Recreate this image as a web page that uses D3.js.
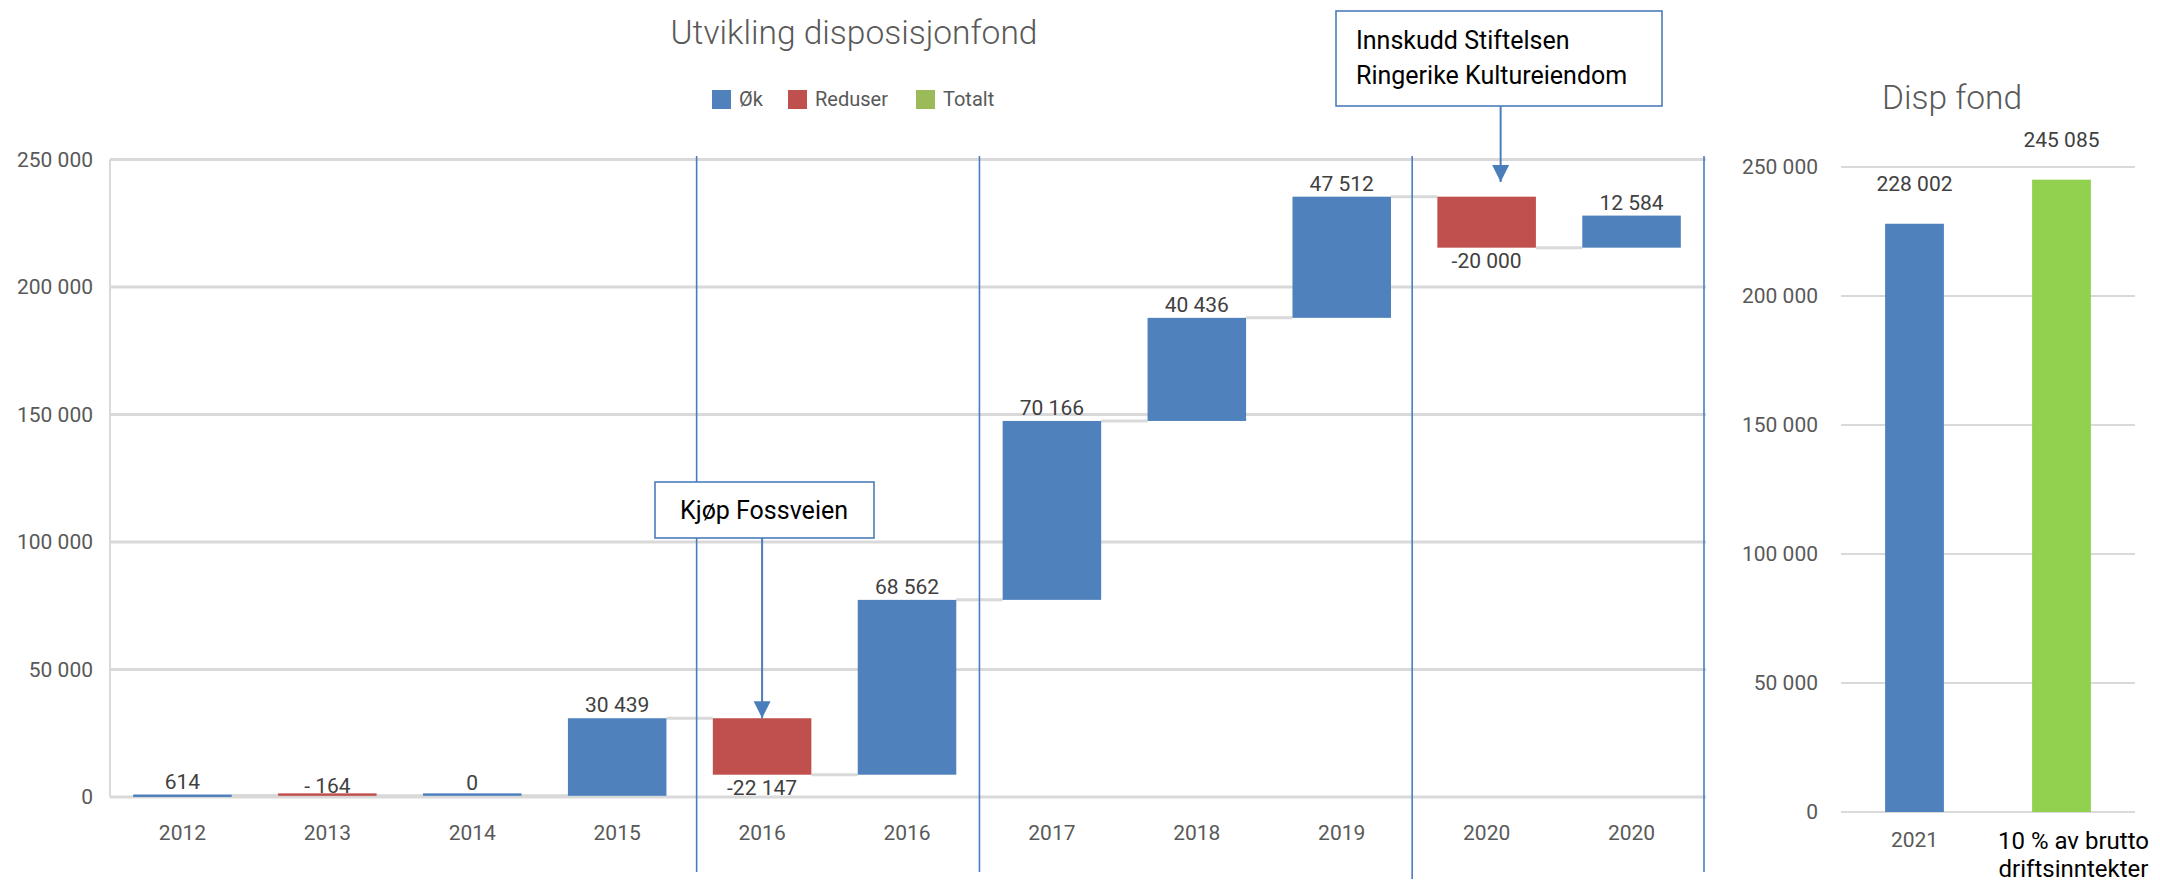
<!DOCTYPE html>
<html>
<head>
<meta charset="utf-8">
<script src="https://cdn.jsdelivr.net/npm/d3@7/dist/d3.min.js"></script>
<style>
  html, body { margin: 0; padding: 0; background: #fff; }
  svg { display: block; font-family: Roboto, "Open Sans", sans-serif; }
</style>
</head>
<body>
<svg id="chart" width="2160" height="886"></svg>
<script>
// ---- data ----
const categories = ["2012", "2013", "2014", "2015", "2016", "2016", "2017", "2018", "2019", "2020", "2020"];
const changes = [614, -164, 0, 30439, -22147, 68562, 70166, 40436, 47512, -20000, 12584];
const changeLabels = ["614", "- 164", "0", "30 439", "-22 147", "68 562", "70 166", "40 436", "47 512", "-20 000", "12 584"];
const yTicks = [0, 50000, 100000, 150000, 200000, 250000];
const legendItems = ["Øk", "Reduser", "Totalt"];
const separatorBoundaries = [4, 6, 9, 11];
const annotations = [
  { lines: ["Kjøp Fossveien"], category: 4 },
  { lines: ["Innskudd Stiftelsen", "Ringerike Kultureiendom"], category: 9 }
];
const dispCategories = [["2021"], ["10 % av brutto", "driftsinntekter"]];
const dispValues = [228002, 245085];
const dispLabels = ["228 002", "245 085"];

// ---- styles ----
const C = { up: "#4f81bd", down: "#c0504d", total: "#9bbb59", green: "#92d050",
  grid: "#d9d9d9", axisText: "#595959", label: "#404040", line: "#4a7ebb" };
const sepOffsets = [7, 0, -2, 0];

const loc = d3.formatLocale({ decimal: ",", thousands: " ", grouping: [3], currency: ["", ""] });
const fmt = loc.format(",");

const svg = d3.select("#chart");

// ---- left waterfall chart ----
const xL = d3.scaleBand().domain(d3.range(categories.length)).range([110, 1704]).paddingInner(0.32).paddingOuter(0.16);
const yL = d3.scaleLinear().domain([0, 250000]).range([797, 159.5]);

// running totals
let run = 0;
const steps = changes.map((v, i) => {
  const start = run; run += v;
  return { i, v, start, end: run, label: changeLabels[i] };
});

// gridlines
svg.append("g").selectAll("line").data(yTicks).join("line")
  .attr("x1", 110).attr("x2", 1706)
  .attr("y1", d => yL(d)).attr("y2", d => yL(d))
  .attr("stroke", C.grid).attr("stroke-width", 3);
svg.append("line").attr("x1", 110).attr("x2", 110).attr("y1", yL(250000)).attr("y2", yL(0))
  .attr("stroke", C.grid).attr("stroke-width", 2);

// y axis labels
const yAxisL = d3.axisLeft(yL).tickValues(yTicks).tickFormat(fmt).tickSize(0).tickPadding(0);
const gy = svg.append("g").attr("transform", "translate(93,0)").call(yAxisL);
gy.select(".domain").remove();
gy.selectAll("text").attr("fill", C.axisText).attr("font-size", 21).attr("font-family", "Roboto");

// x axis labels
const xAxisL = d3.axisBottom(xL).tickFormat(i => categories[i]).tickSize(0).tickPadding(0);
const gx = svg.append("g").attr("transform", "translate(0,825)").call(xAxisL);
gx.select(".domain").remove();
gx.selectAll("text").attr("fill", C.axisText).attr("font-size", 21).attr("font-family", "Roboto").attr("dy", "0.71em");

// connectors
svg.append("g").selectAll("line").data(steps.slice(0, -1)).join("line")
  .attr("x1", d => xL(d.i) + xL.bandwidth())
  .attr("x2", d => xL(d.i + 1))
  .attr("y1", d => yL(d.end)).attr("y2", d => yL(d.end))
  .attr("stroke", C.grid).attr("stroke-width", 3);

// bars
svg.append("g").selectAll("rect").data(steps).join("rect")
  .attr("x", d => xL(d.i))
  .attr("width", xL.bandwidth())
  .attr("y", d => {
    const top = yL(Math.max(d.start, d.end)), bot = yL(Math.min(d.start, d.end));
    return (bot - top) < 2.5 ? bot - 2.5 : top;
  })
  .attr("height", d => Math.max(2.5, Math.abs(yL(d.start) - yL(d.end))))
  .attr("fill", d => d.v < 0 ? C.down : C.up);

// labels
svg.append("g").selectAll("text").data(steps).join("text")
  .attr("x", d => xL(d.i) + xL.bandwidth() / 2)
  .attr("y", d => {
    const top = yL(Math.max(d.start, d.end)), bot = yL(Math.min(d.start, d.end));
    if (d.v < 0 && yL(0) - bot > 10) return bot + 20;
    if (d.v < 0) return top - 2;
    return top - 6;
  })
  .attr("text-anchor", "middle")
  .attr("fill", C.label).attr("font-size", 21)
  .text(d => d.label);

// separators
svg.append("g").selectAll("line").data(separatorBoundaries).join("line")
  .attr("x1", (b, k) => xL.range()[0] + xL.step() * b + sepOffsets[k])
  .attr("x2", (b, k) => xL.range()[0] + xL.step() * b + sepOffsets[k])
  .attr("y1", 156).attr("y2", (b, k) => k === 2 ? 879 : 872)
  .attr("stroke", C.line).attr("stroke-width", 1.6);

// title
svg.append("text").attr("x", 854).attr("y", 44).attr("text-anchor", "middle")
  .attr("fill", C.axisText).attr("font-size", 33.5).attr("font-weight", 300)
  .text("Utvikling disposisjonfond");

// legend
const legColors = [C.up, C.down, C.total];
const legX = [712, 788, 916];
const lg = svg.append("g").selectAll("g").data(legendItems).join("g")
  .attr("transform", (d, i) => `translate(${legX[i]},90)`);
lg.append("rect").attr("width", 19).attr("height", 19).attr("fill", (d, i) => legColors[i]);
lg.append("text").attr("x", 27).attr("y", 16).attr("fill", C.axisText).attr("font-size", 20).text(d => d);

// arrow marker
svg.append("defs").append("marker").attr("id", "arr")
  .attr("viewBox", "0 0 10 10").attr("refX", 10).attr("refY", 5)
  .attr("markerWidth", 17).attr("markerHeight", 17).attr("markerUnits", "userSpaceOnUse")
  .attr("orient", "auto")
  .append("path").attr("d", "M0,0 L10,5 L0,10 Z").attr("fill", C.line);

// annotation 1
{
  const a = annotations[0];
  const cx = xL(a.category) + xL.bandwidth() / 2;
  const tip = yL(steps[a.category].start);
  svg.append("line").attr("x1", cx).attr("x2", cx).attr("y1", 538).attr("y2", tip)
    .attr("stroke", C.line).attr("stroke-width", 2).attr("marker-end", "url(#arr)");
  svg.append("rect").attr("x", 655).attr("y", 482).attr("width", 219).attr("height", 56)
    .attr("fill", "#fff").attr("stroke", C.line).attr("stroke-width", 1.6);
  svg.append("text").attr("x", 764).attr("y", 519).attr("text-anchor", "middle")
    .attr("fill", "#000").attr("font-size", 25).text(a.lines[0]);
}
// annotation 2
{
  const a = annotations[1];
  const cx = xL(a.category) + xL.bandwidth() / 2 + 14;
  svg.append("line").attr("x1", cx).attr("x2", cx).attr("y1", 106).attr("y2", 182)
    .attr("stroke", C.line).attr("stroke-width", 2).attr("marker-end", "url(#arr)");
  svg.append("rect").attr("x", 1336).attr("y", 11).attr("width", 326).attr("height", 95)
    .attr("fill", "#fff").attr("stroke", C.line).attr("stroke-width", 1.6);
  svg.append("g").selectAll("text").data(a.lines).join("text")
    .attr("x", 1356).attr("y", (d, i) => 49 + i * 35)
    .attr("fill", "#000").attr("font-size", 25).text(d => d);
}

// ---- right chart ----
const xR = d3.scaleBand().domain(d3.range(dispValues.length)).range([1841, 2135]).paddingInner(0.6).paddingOuter(0.3);
const yR = d3.scaleLinear().domain([0, 250000]).range([812, 167]);

svg.append("g").selectAll("line").data(yTicks).join("line")
  .attr("x1", 1841).attr("x2", 2135)
  .attr("y1", d => yR(d)).attr("y2", d => yR(d))
  .attr("stroke", C.grid).attr("stroke-width", 2);

const gyR = svg.append("g").attr("transform", "translate(1818,0)")
  .call(d3.axisLeft(yR).tickValues(yTicks).tickFormat(fmt).tickSize(0).tickPadding(0));
gyR.select(".domain").remove();
gyR.selectAll("text").attr("fill", C.axisText).attr("font-size", 21).attr("font-family", "Roboto");

svg.append("g").selectAll("rect").data(dispValues).join("rect")
  .attr("x", (d, i) => xR(i)).attr("width", xR.bandwidth())
  .attr("y", d => yR(d)).attr("height", d => yR(0) - yR(d))
  .attr("fill", (d, i) => i === 0 ? C.up : C.green);

svg.append("g").selectAll("text").data(dispValues).join("text")
  .attr("x", (d, i) => xR(i) + xR.bandwidth() / 2)
  .attr("y", d => yR(d) - 33)
  .attr("text-anchor", "middle").attr("fill", C.label).attr("font-size", 21)
  .text((d, i) => dispLabels[i]);

const xl = svg.append("g").selectAll("text").data(dispCategories).join("text")
  .attr("x", (d, i) => xR(i) + xR.bandwidth() / 2 + (i === 1 ? 12 : 0))
  .attr("y", (d, i) => i === 0 ? 847 : 849)
  .attr("text-anchor", "middle")
  .attr("fill", (d, i) => i === 0 ? C.axisText : "#000")
  .attr("font-size", (d, i) => i === 0 ? 21 : 24);
xl.selectAll("tspan").data(d => d).join("tspan")
  .attr("x", function () { return d3.select(this.parentNode).attr("x"); })
  .attr("dy", (d, j) => j === 0 ? 0 : 28)
  .text(d => d);

svg.append("text").attr("x", 1952).attr("y", 109).attr("text-anchor", "middle")
  .attr("fill", C.axisText).attr("font-size", 33.5).attr("font-weight", 300)
  .text("Disp fond");
</script>
</body>
</html>
